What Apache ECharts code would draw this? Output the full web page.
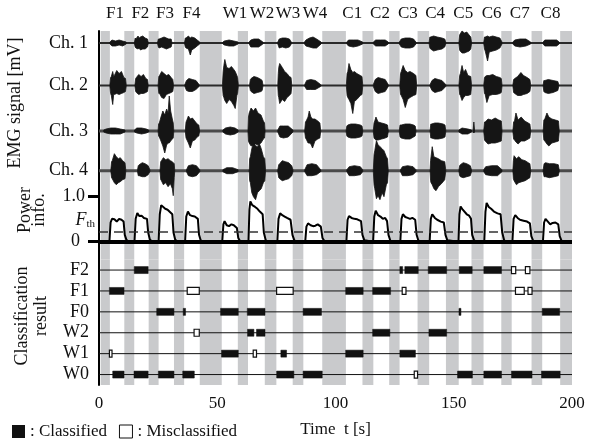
<!DOCTYPE html>
<html>
<head>
<meta charset="utf-8">
<script src="https://cdn.jsdelivr.net/npm/echarts@6/dist/echarts.min.js"></script>
<style>
  html, body { margin: 0; background: #fff; }
  #chart { width: 596px; height: 439px; }
</style>
</head>
<body>
<div id="chart"></div>
<script>
// ---- data ----
const motionNames = ['F1', 'F2', 'F3', 'F4', 'W1', 'W2', 'W3', 'W4', 'C1', 'C2', 'C3', 'C4', 'C5', 'C6', 'C7', 'C8'];
const motionCenters = [6.8, 17.5, 27.9, 39.1, 57.5, 68.9, 79.9, 91.3, 107.1, 118.8, 130.6, 142.1, 154, 166, 177.9, 190.9];

// rest periods (grey bands), seconds
const bandStart = [0.7, 10.7, 21, 31.7, 42.6, 58.7, 70.1, 81.9, 94.4, 111.4, 122.7, 134.7, 146.7, 157.5, 170.1, 182.9, 195];
const bandEnd = [4.6, 14.9, 25.2, 36, 51.9, 63, 75, 86.4, 104.4, 116, 127.1, 139.6, 152.1, 162.6, 174.5, 187.4, 200];

const channelNames = ['Ch. 1', 'Ch. 2', 'Ch. 3', 'Ch. 4'];
const channelOffset = [216.6, 174.1, 128.6, 88.9];

// EMG bursts: each burst is a list of [t, upper envelope, lower envelope]
const emgCh1 = [
  [[4.6, 1, 1], [5.5, 3, 3], [7, 2, 3], [8.5, 3, 2], [10, 2, 3], [11.5, 1, 1]],
  [[15, 1, 1], [15.3, 5, 4], [15.6, 4, 5], [16.5, 7, 6], [17, 5, 5], [17.5, 6, 7], [18.5, 7, 6], [19.5, 5, 6], [20.5, 4, 4], [20.8, 1, 1]],
  [[24.8, 1, 1], [25.1, 4, 4], [25.4, 4, 5], [26.5, 5, 4], [27.5, 6, 5], [28.5, 5, 6], [29.5, 4, 5], [30.5, 4, 4], [30.8, 1, 1]],
  [[36.2, 1, 1], [36.5, 5, 4], [36.8, 5, 5], [37.8, 7, 6], [38.6, 5, 12], [39.2, 6, 7], [40.5, 5, 5], [41.5, 3, 3], [42.6, 1, 1]],
  [[52.4, 1, 1], [53, 2, 2], [55, 3, 3], [57, 2, 3], [58.8, 1, 1]],
  [[63.5, 1, 1], [64.2, 3, 4], [65.5, 4, 4], [67.5, 4, 4], [69.3, 1, 1]],
  [[75.6, 1, 1], [76.2, 4, 5], [77.5, 5, 4], [79, 5, 5], [80.5, 4, 4], [81.3, 1, 1]],
  [[86.9, 1, 1], [87.5, 3, 3], [89, 5, 4], [90.5, 6, 5], [92, 4, 5], [93.9, 1, 1]],
  [[104.8, 1, 1], [105.5, 3, 3], [107.5, 3, 4], [109.5, 3, 3], [111.5, 1, 1]],
  [[116, 1, 1], [117, 3, 3], [119, 3, 3], [121, 3, 3], [122.3, 1, 1]],
  [[127, 1, 1], [127.8, 4, 4], [129.5, 5, 5], [131.5, 5, 5], [133, 4, 4], [134, 1, 1]],
  [[139.6, 1, 1], [139.9, 6, 5], [140.2, 6, 6], [141.5, 7, 8], [143, 6, 7], [145, 5, 6], [146.2, 4, 4], [146.6, 1, 1]],
  [[152.2, 1, 1], [152.5, 8, 7], [152.7, 9, 8], [153.5, 12, 10], [154.5, 10, 10], [155.5, 11, 9], [156.5, 8, 8], [157.2, 6, 6], [157.5, 1, 1]],
  [[162.7, 1, 1], [163, 6, 6], [163.3, 6, 8], [164.3, 7, 18], [165, 6, 9], [166.5, 7, 8], [168, 6, 7], [169.5, 5, 5], [170.4, 1, 1]],
  [[175, 1, 1], [175.8, 3, 3], [178, 4, 4], [180.5, 4, 3], [182.5, 1, 1]],
  [[187.8, 1, 1], [188.5, 3, 3], [191, 3, 3], [193.5, 3, 3], [194.6, 1, 1]]
];
const emgCh2 = [
  [[4.6, 1, 1], [4.9, 8, 8], [5.2, 9, 10], [5.8, 14, 19], [6.2, 9, 9], [6.5, 10, 9], [7.5, 15, 8], [8.5, 12, 9], [9.5, 14, 8], [10.5, 8, 7], [11.2, 7, 6], [11.5, 1, 1]],
  [[15.2, 1, 1], [15.5, 7, 6], [15.8, 8, 7], [16.8, 11, 9], [17.8, 9, 8], [18.8, 11, 8], [19.8, 7, 7], [20.5, 6, 6], [20.8, 1, 1]],
  [[25, 1, 1], [25.3, 9, 8], [25.6, 10, 8], [26.5, 14, 12], [27.5, 12, 13], [28.5, 10, 9], [29.5, 11, 8], [30.5, 8, 7], [31.2, 6, 6], [31.5, 1, 1]],
  [[36.3, 1, 1], [37, 5, 5], [38, 7, 6], [39.5, 6, 6], [41, 5, 4], [42.3, 1, 1]],
  [[52.2, 1, 1], [52.5, 14, 10], [52.8, 20, 12], [53.2, 26, 15], [54, 18, 18], [55, 17, 14], [56, 19, 16], [57, 16, 20], [57.6, 14, 23], [58.3, 10, 10], [58.6, 8, 8], [58.9, 1, 1]],
  [[63.7, 1, 1], [64, 6, 5], [64.3, 7, 6], [65.5, 9, 8], [67, 8, 7], [68.5, 6, 6], [69, 5, 5], [69.3, 1, 1]],
  [[75.6, 1, 1], [75.8, 12, 10], [76, 18, 12], [76.4, 22, 18], [77.5, 18, 14], [78.5, 14, 16], [79.5, 12, 12], [80.5, 9, 10], [81.2, 8, 8], [81.5, 1, 1]],
  [[87, 1, 1], [87.8, 5, 4], [89.5, 6, 4], [91.5, 5, 4], [93.7, 1, 1]],
  [[104.6, 1, 1], [104.9, 12, 10], [105.2, 14, 12], [105.7, 22, 14], [106.5, 16, 18], [107.3, 13, 28], [108, 14, 16], [109, 12, 14], [110.5, 10, 10], [111.2, 9, 9], [111.5, 1, 1]],
  [[116, 1, 1], [116.8, 6, 6], [118, 8, 8], [119.5, 7, 7], [121, 6, 6], [122.3, 1, 1]],
  [[127.2, 1, 1], [127.5, 12, 9], [127.8, 14, 10], [128.6, 20, 14], [129.5, 15, 22], [130.5, 13, 14], [131.5, 14, 12], [133, 12, 10], [134, 10, 9], [134.3, 1, 1]],
  [[140, 1, 1], [140.8, 5, 5], [142, 7, 7], [143.5, 6, 6], [145, 5, 5], [146.6, 1, 1]],
  [[152.2, 1, 1], [152.5, 10, 9], [152.8, 12, 10], [153.5, 20, 15], [154.2, 13, 12], [155, 16, 10], [156, 10, 10], [157.2, 9, 9], [157.5, 1, 1]],
  [[162.7, 1, 1], [163, 8, 8], [163.3, 9, 9], [164, 10, 17], [165, 10, 10], [166.5, 11, 9], [168, 9, 9], [169.5, 8, 8], [170.1, 7, 7], [170.4, 1, 1]],
  [[175, 1, 1], [175.3, 6, 7], [175.8, 7, 8], [177, 9, 10], [178.4, 13, 10], [179.5, 10, 9], [181, 8, 8], [182.2, 6, 6], [182.5, 1, 1]],
  [[187.8, 1, 1], [188.1, 5, 6], [188.5, 5, 7], [190, 6, 8], [192, 5, 7], [194, 4, 5], [194.4, 1, 1]]
];
const emgCh3 = [
  [[2, 1, 1], [3, 2, 2], [5, 3, 3], [7, 3, 3], [9, 2, 3], [11, 1, 1]],
  [[15, 1, 1], [16, 3, 2], [18, 3, 3], [20, 2, 2], [21, 1, 1]],
  [[25, 1, 1], [25.2, 7, 5], [25.5, 8, 6], [26.2, 14, 10], [27, 20, 15], [27.8, 16, 22], [28.6, 22, 14], [29.2, 18, 12], [29.7, 35, 12], [30.3, 20, 10], [31, 12, 8], [31.4, 8, 7], [31.6, 1, 1]],
  [[36.5, 1, 1], [36.8, 9, 7], [37, 10, 8], [37.8, 15, 12], [38.6, 12, 17], [39.5, 13, 10], [40.5, 10, 9], [41.5, 7, 6], [42.2, 6, 5], [42.5, 1, 1]],
  [[52.4, 1, 1], [53.5, 3, 3], [55.5, 4, 4], [57.5, 3, 3], [58.8, 1, 1]],
  [[63, 1, 1], [63.2, 14, 10], [63.5, 18, 12], [64.3, 23, 15], [65.3, 20, 14], [66.2, 23, 13], [67.2, 18, 14], [68.5, 16, 12], [69.5, 10, 8], [70, 8, 7], [70.2, 1, 1]],
  [[75.6, 1, 1], [76.5, 5, 6], [78, 5, 7], [80, 5, 6], [82, 1, 1]],
  [[87, 1, 1], [87.3, 9, 7], [87.6, 10, 8], [88.4, 14, 12], [88.9, 20, 12], [89.6, 14, 13], [90.3, 12, 17], [91.3, 12, 10], [92.5, 10, 8], [93.4, 8, 7], [93.7, 1, 1]],
  [[104.5, 1, 1], [104.8, 5, 5], [105.2, 6, 6], [106.5, 7, 7], [108.5, 7, 7], [110.5, 6, 6], [111.2, 5, 5], [111.5, 1, 1]],
  [[116, 1, 1], [116.3, 8, 7], [116.6, 10, 8], [117.1, 14, 9], [118, 9, 9], [119.5, 8, 8], [121, 7, 7], [122, 6, 6], [122.3, 1, 1]],
  [[127, 1, 1], [127.3, 6, 6], [127.8, 6, 7], [129.5, 7, 8], [131.5, 7, 8], [133, 6, 6], [133.7, 5, 5], [134, 1, 1]],
  [[140, 1, 1], [140.3, 7, 7], [140.6, 7, 7], [142, 8, 8], [143.5, 8, 8], [145.5, 7, 7], [146.3, 6, 6], [146.6, 1, 1]],
  [[152.2, 1, 1], [153.5, 3, 3], [156, 2, 3], [157.5, 1, 1]],
  [[158.2, 1, 1], [158.5, 9, 2], [158.8, 1, 1]],
  [[162.7, 1, 1], [163, 9, 9], [163.3, 9, 10], [164.5, 12, 13], [166, 11, 12], [167.5, 13, 12], [169, 11, 11], [170.1, 10, 10], [170.4, 1, 1]],
  [[175, 1, 1], [175.3, 9, 8], [175.7, 10, 9], [176.3, 18, 11], [177.2, 11, 13], [178.5, 14, 10], [180, 10, 10], [181.5, 8, 8], [182.2, 7, 7], [182.5, 1, 1]],
  [[187.8, 1, 1], [188.1, 11, 9], [188.5, 12, 10], [189.4, 18, 13], [190.2, 14, 15], [191.5, 12, 12], [193, 11, 11], [194.3, 10, 10], [194.6, 1, 1]]
];
const emgCh4 = [
  [[5, 1, 1], [5.3, 9, 7], [5.6, 10, 8], [6.5, 17, 12], [7.3, 14, 14], [8.2, 12, 12], [9, 13, 11], [10, 10, 9], [11, 8, 8], [11.3, 1, 1]],
  [[16.3, 1, 1], [16.6, 5, 5], [17, 6, 5], [18.3, 8, 6], [19.5, 7, 6], [20.8, 5, 4], [21.5, 1, 1]],
  [[25.8, 1, 1], [26.1, 9, 9], [26.4, 10, 10], [27.2, 13, 14], [28.2, 11, 12], [29.2, 12, 16], [30.2, 10, 13], [31, 9, 18], [31.4, 8, 25], [31.8, 7, 7], [32, 1, 1]],
  [[37, 1, 1], [37.8, 5, 5], [39.5, 6, 6], [41.2, 5, 5], [42.6, 1, 1]],
  [[52.4, 1, 1], [54, 3, 3], [56.5, 3, 3], [58.8, 1, 1]],
  [[63.5, 1, 1], [63.7, 12, 10], [64, 14, 12], [64.6, 22, 22], [65.3, 28, 26], [66.2, 25, 29], [67, 24, 22], [67.8, 27, 20], [68.6, 22, 18], [69.5, 14, 12], [70.1, 12, 10], [70.4, 1, 1]],
  [[75.6, 1, 1], [76, 6, 7], [76.4, 7, 8], [77.5, 10, 10], [78.8, 9, 9], [80.2, 8, 8], [81.5, 5, 5], [82, 1, 1]],
  [[87, 1, 1], [88, 6, 5], [90, 7, 5], [92, 6, 4], [93.7, 1, 1]],
  [[104.8, 1, 1], [105.8, 4, 5], [108, 5, 5], [110.5, 4, 4], [111.5, 1, 1]],
  [[116, 1, 1], [116.3, 16, 14], [116.6, 20, 18], [117.3, 30, 28], [118, 26, 25], [118.8, 24, 29], [119.7, 22, 22], [120.5, 20, 26], [121.5, 14, 14], [122, 12, 12], [122.3, 1, 1]],
  [[127.5, 1, 1], [128.3, 4, 5], [130.5, 5, 5], [132.8, 4, 4], [134, 1, 1]],
  [[140, 1, 1], [140.2, 10, 10], [140.4, 14, 12], [140.9, 24, 14], [141.6, 14, 18], [142.5, 13, 20], [143.5, 12, 16], [144.8, 10, 13], [146.2, 9, 9], [146.6, 1, 1]],
  [[152.2, 1, 1], [152.5, 5, 5], [152.8, 6, 6], [154, 8, 7], [155.5, 7, 6], [157, 5, 5], [157.5, 1, 1]],
  [[162.7, 1, 1], [163.5, 4, 4], [166, 5, 5], [168.5, 5, 5], [170.4, 1, 1]],
  [[175, 1, 1], [175.2, 10, 8], [175.5, 15, 10], [176.5, 12, 14], [177.5, 14, 12], [178.8, 11, 11], [180.2, 10, 10], [181.5, 8, 8], [182.2, 7, 7], [182.5, 1, 1]],
  [[187.8, 1, 1], [188.2, 7, 6], [188.8, 8, 6], [190.5, 7, 7], [192.5, 7, 6], [194.2, 6, 5], [194.6, 1, 1]]
];

// power information [t, value]
const powerInfo = [
  [0, 0],
  [4.4, 0], [4.9, 0.42], [5.5, 0.5], [6.5, 0.49], [7.5, 0.44], [8.5, 0.5], [9.5, 0.48], [10.4, 0.44], [10.9, 0.15], [11.6, 0.04], [12.5, 0],
  [15, 0], [15.5, 0.5], [16.2, 0.63], [17, 0.56], [18, 0.57], [19, 0.52], [20.3, 0.5], [20.8, 0.2], [21.5, 0.05], [22.5, 0],
  [25.2, 0], [25.7, 0.6], [26.3, 0.8], [27, 0.76], [28, 0.72], [29, 0.7], [30, 0.65], [31, 0.6], [31.5, 0.2], [32.2, 0.05], [33, 0],
  [36.4, 0], [36.9, 0.55], [37.6, 0.66], [38.5, 0.58], [39.5, 0.56], [40.5, 0.55], [41.8, 0.5], [42.3, 0.15], [43, 0.03], [44, 0],
  [52.1, 0], [52.6, 0.38], [53.1, 0.45], [54, 0.36], [55, 0.34], [56, 0.38], [57, 0.36], [58.3, 0.3], [58.9, 0.08], [59.8, 0],
  [63.2, 0], [63.6, 0.7], [64, 0.88], [64.8, 0.8], [66, 0.76], [67, 0.72], [68, 0.66], [69.2, 0.6], [69.7, 0.2], [70.5, 0.03], [71.5, 0],
  [75.4, 0], [75.9, 0.5], [76.6, 0.62], [77.5, 0.58], [78.5, 0.55], [79.5, 0.52], [81, 0.48], [81.8, 0.15], [82.6, 0.03], [83.5, 0],
  [87.2, 0], [87.7, 0.33], [88.4, 0.4], [89.5, 0.36], [90.5, 0.34], [91.5, 0.35], [92.5, 0.38], [93.8, 0.33], [94.5, 0.08], [95.5, 0],
  [104.6, 0], [105.1, 0.48], [105.7, 0.56], [106.8, 0.52], [108, 0.5], [109.2, 0.49], [110.8, 0.45], [111.4, 0.15], [112.2, 0.03], [113, 0],
  [115.9, 0], [116.4, 0.55], [117, 0.68], [118, 0.58], [119, 0.55], [120, 0.5], [121, 0.52], [121.8, 0.45], [122.4, 0.15], [123.2, 0.02], [124, 0],
  [127.4, 0], [127.9, 0.5], [128.5, 0.6], [129.5, 0.54], [130.5, 0.52], [131.5, 0.5], [132.5, 0.52], [133.7, 0.48], [134.3, 0.15], [135, 0.03], [136, 0],
  [139.8, 0], [140.3, 0.5], [140.9, 0.6], [142, 0.52], [143, 0.48], [144.5, 0.44], [145.8, 0.42], [146.5, 0.15], [147.3, 0.03], [148, 0],
  [152, 0], [152.4, 0.6], [152.9, 0.77], [153.8, 0.7], [154.5, 0.66], [155.5, 0.6], [156.5, 0.57], [157.3, 0.5], [157.8, 0.15], [158.6, 0.03], [159.5, 0],
  [162.9, 0], [163.4, 0.65], [163.9, 0.85], [164.8, 0.76], [165.8, 0.72], [167, 0.66], [168.5, 0.62], [169.8, 0.6], [170.5, 0.2], [171.3, 0.03], [172.2, 0],
  [174.8, 0], [175.3, 0.5], [176, 0.58], [177, 0.52], [178, 0.48], [179.5, 0.46], [181, 0.44], [182.2, 0.4], [182.8, 0.12], [183.6, 0.02], [184.5, 0],
  [187.7, 0], [188.2, 0.42], [188.8, 0.5], [189.8, 0.44], [190.8, 0.38], [191.8, 0.41], [193, 0.42], [194.2, 0.38], [194.8, 0.12], [195.6, 0.02], [196.5, 0],
  [200, 0]
];
const powerThreshold = 0.22;

// classification result rows (bottom to top) and [start, end] blocks
const clsRows = ['W0', 'W1', 'W2', 'F0', 'F1', 'F2'];
const okF2 = [[14.9, 20.8], [127.2, 128.4], [129.3, 135], [139.2, 147], [152.3, 157.8], [162.7, 170.2]];
const okF1 = [[4.4, 10.6], [104.3, 111.7], [115.7, 123.3]];
const okF0 = [[24.4, 31.7], [35.6, 36.6], [51.4, 58.9], [62.7, 70.2], [86.3, 94.1], [152.2, 153], [187.4, 194.8]];
const okW2 = [[62.8, 65.5], [66.6, 70.2], [115.7, 123], [139.5, 147]];
const okW1 = [[51.8, 58.9], [76.9, 79.3], [104.3, 111.7], [127.2, 133.8]];
const okW0 = [[5.8, 10.6], [14.8, 20.8], [25.1, 31.7], [35.4, 40.3], [75.1, 82.4], [86.3, 94.4], [151.6, 157.9], [162.7, 170.2], [174.4, 183.1], [187.1, 195]];
const missF2 = [[174.4, 176.2], [180.3, 182.2]];
const missF1 = [[37.3, 42.4], [75.1, 82.1], [128.2, 129.8], [176.1, 179.8], [181.4, 183.1]];
const missW2 = [[40.2, 42.4]];
const missW1 = [[4.4, 5.5], [65.2, 66.6]];
const missW0 = [[133.3, 134.7]];

// ---- chart ----
const FONT = "'Liberation Serif', 'Times New Roman', serif";
const INK = '#111';
const BAND = '#c9cacc';

const chart = echarts.init(document.getElementById('chart'));

const bandPairs = bandStart.map((s, i) => [{ xAxis: s }, { xAxis: bandEnd[i] }]);

function near(a, b) { return Math.abs(a - b) < 1e-6; }

function emgSeries(bursts, k) {
    return {
        type: 'custom',
        xAxisIndex: 0,
        yAxisIndex: 1,
        z: 3,
        silent: true,
        data: bursts.map((b) => [b[0][0], channelOffset[k]]),
        renderItem: (params, api) => {
            const b = bursts[params.dataIndex];
            const base = channelOffset[k];
            const upper = b.map((p) => api.coord([p[0], base + p[1]]));
            const lower = b.map((p) => api.coord([p[0], base - p[2]])).reverse();
            return {
                type: 'polygon',
                shape: { points: upper.concat(lower) },
                style: { fill: '#151515', stroke: '#151515', lineWidth: 0.8 },
            };
        },
    };
}

function blocks(byRow) {
    const out = [];
    byRow.forEach(([row, list]) => {
        const r = clsRows.indexOf(row);
        list.forEach((b) => out.push([b[0], b[1], r]));
    });
    return out;
}

function blockSeries(name, data, hollow) {
    return {
        name,
        type: 'custom',
        xAxisIndex: 1,
        yAxisIndex: 2,
        z: 5,
        silent: true,
        data,
        encode: { x: [0, 1], y: 2 },
        renderItem: (params, api) => {
            const r = api.value(2);
            const a = api.coord([api.value(0), r]);
            const b = api.coord([api.value(1), r]);
            const h = 7;
            return {
                type: 'rect',
                shape: { x: a[0], y: a[1] - h / 2, width: Math.max(b[0] - a[0], 2), height: h },
                style: hollow
                    ? { fill: '#fff', stroke: INK, lineWidth: 1.2 }
                    : { fill: INK, stroke: INK, lineWidth: 0.5 },
            };
        },
    };
}

const classified = blocks([['F2', okF2], ['F1', okF1], ['F0', okF0], ['W2', okW2], ['W1', okW1], ['W0', okW0]]);
const misclassified = blocks([['F2', missF2], ['F1', missF1], ['W2', missW2], ['W1', missW1], ['W0', missW0]]);

const axisText = { fontFamily: FONT, color: INK };

chart.setOption({
    animation: false,
    backgroundColor: '#fff',
    grid: [
        { left: 99, right: 24, top: 31, height: 228.6 },
        { left: 99, right: 24, top: 259.6, height: 125.4 },
    ],
    xAxis: [
        {
            gridIndex: 0, type: 'value', min: 0, max: 200, position: 'top',
            axisLine: { show: false }, axisTick: { show: false }, splitLine: { show: false },
            axisLabel: {
                ...axisText, fontSize: 17, margin: 9, hideOverlap: false,
                customValues: motionCenters,
                formatter: (v) => motionNames[motionCenters.findIndex((c) => near(c, v))] || '',
            },
        },
        {
            gridIndex: 1, type: 'value', min: 0, max: 200, interval: 50,
            axisLine: { lineStyle: { color: '#000', width: 2 } },
            axisTick: { length: 6, lineStyle: { color: '#000', width: 1.5 } },
            splitLine: { show: false },
            axisLabel: { ...axisText, fontSize: 17, margin: 10 },
            name: 'Time  t [s]', nameLocation: 'middle', nameGap: 36,
            nameTextStyle: { ...axisText, fontSize: 17 },
        },
    ],
    yAxis: [
        {
            gridIndex: 0, type: 'value', position: 'left', min: -0.392, max: 4.611,
            axisLine: { show: true, onZero: false, lineStyle: { color: '#000', width: 2 } },
            axisTick: { show: true, customValues: [0, 1], length: 11, lineStyle: { color: '#000', width: 3 } },
            splitLine: { show: false },
            axisLabel: {
                ...axisText, fontSize: 18, margin: 14, hideOverlap: false,
                showMinLabel: true, showMaxLabel: true,
                customValues: [0, 1],
                formatter: (v) => near(v, 0) ? '{z|0}' : '1.0',
                rich: { z: { fontFamily: FONT, fontSize: 18, color: INK, padding: [0, 5, 0, 0] } },
            },
        },
        {
            gridIndex: 0, type: 'value', position: 'left', offset: 0, min: 0, max: 228.6,
            axisLine: { show: false }, axisTick: { show: false }, splitLine: { show: false },
            axisLabel: {
                ...axisText, fontSize: 18, margin: 11, hideOverlap: false,
                customValues: channelOffset,
                formatter: (v) => channelNames[channelOffset.findIndex((c) => near(c, v))] || '',
            },
        },
        {
            gridIndex: 1, type: 'category', data: clsRows,
            axisLine: { lineStyle: { color: '#000', width: 2 } },
            axisTick: { show: false },
            axisLabel: { ...axisText, fontSize: 18, margin: 10, interval: 0 },
        },
    ],
    legend: {
        left: 7, top: 418, itemWidth: 13, itemHeight: 13, itemGap: 12,
        selectedMode: false,
        textStyle: { ...axisText, fontSize: 17 },
        formatter: (n) => ': ' + n,
        data: [
            { name: 'Classified', icon: 'rect', itemStyle: { color: INK } },
            { name: 'Misclassified', icon: 'rect', itemStyle: { color: '#fff', borderColor: INK, borderWidth: 1 } },
        ],
    },
    graphic: [
        {
            type: 'text', x: 15, y: 103, rotation: Math.PI / 2,
            style: { text: 'EMG signal [mV]', font: '18px ' + FONT, fill: INK, textAlign: 'center', textVerticalAlign: 'middle' },
        },
        {
            type: 'text', x: 32, y: 210, rotation: Math.PI / 2,
            style: { text: 'Power\ninfo.', font: '18px ' + FONT, lineHeight: 14, fill: INK, textAlign: 'center', textVerticalAlign: 'middle' },
        },
        {
            type: 'text', x: 32, y: 316, rotation: Math.PI / 2,
            style: { text: 'Classification\nresult', font: '18px ' + FONT, lineHeight: 19, fill: INK, textAlign: 'center', textVerticalAlign: 'middle' },
        },
    ],
    series: [
        {
            type: 'line', xAxisIndex: 0, yAxisIndex: 0, data: [], z: 0, silent: true,
            markArea: { silent: true, itemStyle: { color: BAND }, data: bandPairs },
        },
        {
            type: 'line', xAxisIndex: 1, yAxisIndex: 2, data: [], z: 0, silent: true,
            markArea: { silent: true, itemStyle: { color: BAND }, data: bandPairs },
        },
        ...channelOffset.map((off, k) => ({
            type: 'line', xAxisIndex: 0, yAxisIndex: 1, z: 2, silent: true,
            symbol: 'none',
            data: [[0, off], [200, off]],
            lineStyle: { color: k < 2 ? '#2a2a2a' : '#4a4a4a', width: k < 2 ? 2 : 3 },
        })),
        emgSeries(emgCh1, 0),
        emgSeries(emgCh2, 1),
        emgSeries(emgCh3, 2),
        emgSeries(emgCh4, 3),
        {
            type: 'line', xAxisIndex: 0, yAxisIndex: 0, z: 4, silent: true,
            symbol: 'none',
            data: powerInfo,
            lineStyle: { color: '#000', width: 2 },
            markLine: {
                silent: true, symbol: 'none', label: { show: false },
                data: [
                    { yAxis: 0, lineStyle: { color: '#000', width: 4, type: 'solid' } },
                    {
                        yAxis: powerThreshold,
                        lineStyle: { color: '#333', width: 1.5, type: [9, 6] },
                        label: {
                            show: true, position: 'start', distance: 4,
                            padding: [0, 0, 22, 0],
                            formatter: '{f|F}{s|th}',
                            rich: {
                                f: { fontFamily: FONT, fontStyle: 'italic', fontSize: 18, color: INK },
                                s: { fontFamily: FONT, fontSize: 11, color: INK, padding: [7, 0, 0, 0] },
                            },
                        },
                    },
                ],
            },
        },
        {
            type: 'custom', xAxisIndex: 1, yAxisIndex: 2, z: 3, silent: true,
            data: clsRows.map((r, i) => [0, 200, i]),
            encode: { x: [0, 1], y: 2 },
            renderItem: (params, api) => {
                const a = api.coord([api.value(0), api.value(2)]);
                const b = api.coord([api.value(1), api.value(2)]);
                return { type: 'line', shape: { x1: a[0], y1: a[1], x2: b[0], y2: b[1] }, style: { stroke: INK, lineWidth: 1 } };
            },
        },
        blockSeries('Classified', classified, false),
        blockSeries('Misclassified', misclassified, true),
    ],
});
</script>
</body>
</html>
